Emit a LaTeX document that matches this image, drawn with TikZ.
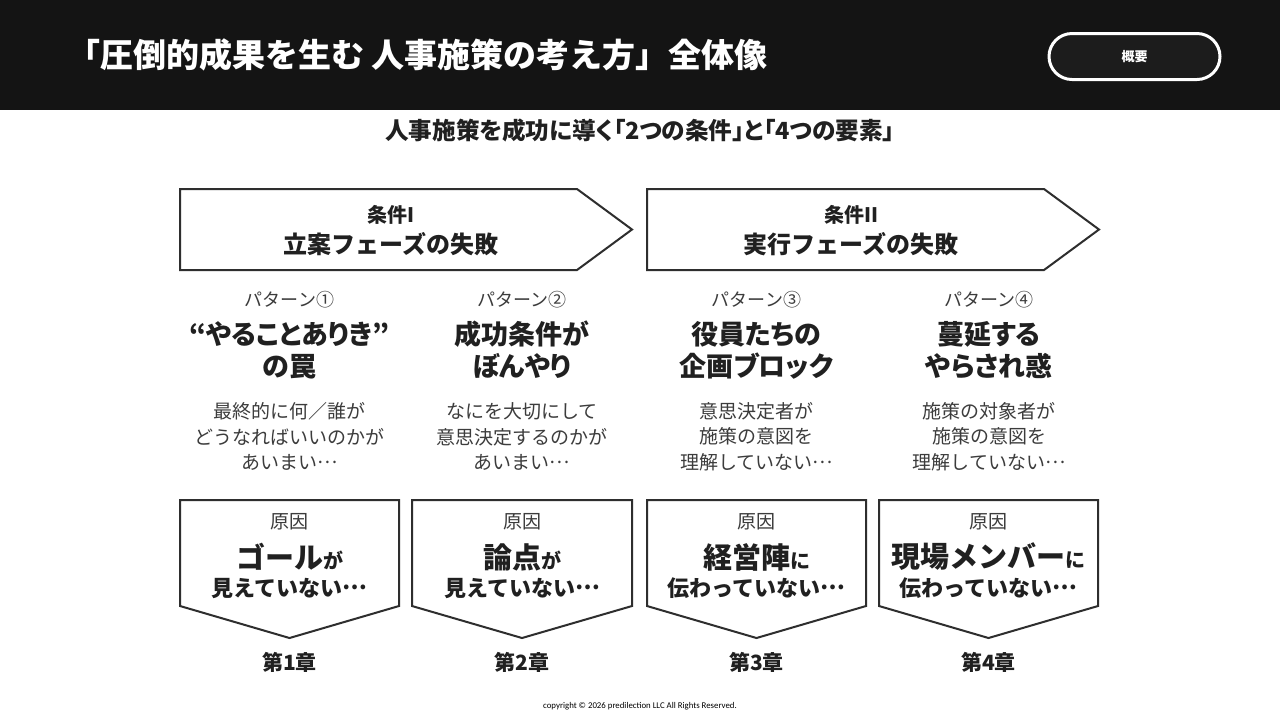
\documentclass[tikz,border=0pt]{standalone}
\usepackage{fontspec}
\setmainfont{Noto Sans CJK JP}
\newfontfamily\copyfont{Carlito}
\usetikzlibrary{positioning}
\definecolor{slideBlack}{HTML}{141414}
\definecolor{pillFill}{HTML}{1c1c1c}
\definecolor{inkDark}{HTML}{202020}
\definecolor{inkMid}{HTML}{3c3c3c}
\definecolor{lineDark}{HTML}{2e2e2e}
\newcommand{\propkana}{\addfontfeature{RawFeature=+palt}}
\tikzset{
  title/.style={anchor=west, inner sep=0pt, text=white,
              font=\bfseries\fontsize{16.5}{19}\selectfont},
  pill/.style={rounded corners=11.5pt, draw=white, line width=1.5pt, fill=pillFill,
              minimum width=85.5pt, minimum height=23pt, inner sep=0pt,
              text=white, font=\bfseries\fontsize{6.5}{8}\selectfont},
  subttl/.style={inner sep=0pt, text=inkDark, font=\bfseries\fontsize{11.8}{14}\selectfont\propkana},
  frame/.style={draw=lineDark, line width=1pt, fill=white, line join=miter},
  condsm/.style={inner sep=0pt, text=inkDark, font=\bfseries\fontsize{10}{12}\selectfont},
  condbig/.style={inner sep=0pt, text=inkDark, font=\bfseries\fontsize{12}{14}\selectfont},
  patlbl/.style={inner sep=0pt, text=inkMid, font=\fontsize{9}{11}\selectfont},
  pathead/.style={inner sep=0pt, align=center, text=inkDark,
              font=\bfseries\fontsize{13.5}{16}\selectfont\propkana},
  patdesc/.style={inner sep=0pt, align=center, text=inkMid,
              font=\fontsize{9.5}{12.75}\selectfont},
  causelbl/.style={inner sep=0pt, text=inkMid, font=\fontsize{9.5}{11}\selectfont},
  causebig/.style={inner sep=0pt, text=inkDark, font=\bfseries\fontsize{14.5}{17}\selectfont},
  causeline/.style={inner sep=0pt, text=inkDark, font=\bfseries\fontsize{11}{13}\selectfont},
  chap/.style={inner sep=0pt, text=inkDark, font=\bfseries\fontsize{10.5}{12}\selectfont},
  copyr/.style={inner sep=0pt, text=black, font=\copyfont\fontsize{4.4}{5}\selectfont},
}
\newcommand{\smga}[1]{{\fontsize{10}{12}\selectfont #1}}
\newcommand{\middots}{\raisebox{.3em}{…}}

\begin{document}
\begin{tikzpicture}[x=0.5pt,y=-0.5pt]
  \useasboundingbox (0,0) rectangle (1280,720);
  \fill[white] (0,0) rectangle (1280,720);

  % header band
  \fill[slideBlack] (0,0) rectangle (1280,110);
  \node[title] (ttl) at (67,55){「圧倒的成果を生む 人事施策の考え方」全体像};
  \node[pill] (gaiyo) at (1134.5,56.5){概要};

  \node[subttl] (sub) at (640,130){人事施策を成功に導く「2つの条件」と「4つの要素」};

  % condition arrows
  \draw[frame] (180,189) -- (577,189) -- (632,229.5) -- (577,270) -- (180,270) -- cycle;
  \node[condsm] (c1a) at (391,215){条件I};
  \node[condbig] (c1b) at (391,244){立案フェーズの失敗};
  \draw[frame] (647,189) -- (1044,189) -- (1099,229.5) -- (1044,270) -- (647,270) -- cycle;
  \node[condsm] (c2a) at (851,215){条件II};
  \node[condbig] (c2b) at (851,244){実行フェーズの失敗};

  % patterns
  \node[patlbl] (pat1) at (289.5,300){パターン①};
  \node[patlbl] (pat2) at (522,300){パターン②};
  \node[patlbl] (pat3) at (756.5,300){パターン③};
  \node[patlbl] (pat4) at (989,300){パターン④};

  \node[pathead] (head1) at (289.5,350){“やることありき”\\の罠};
  \node[pathead] (head2) at (522,350){成功条件が\\ぼんやり};
  \node[pathead] (head3) at (756.5,350){役員たちの\\企画ブロック};
  \node[pathead] (head4) at (989,350){蔓延する\\やらされ惑};

  \node[patdesc] (desc1) at (289.5,436.5){最終的に何／誰が\\どうなればいいのかが\\あいまい\middots};
  \node[patdesc] (desc2) at (522,436.5){なにを大切にして\\意思決定するのかが\\あいまい\middots};
  \node[patdesc] (desc3) at (756.5,436.5){意思決定者が\\施策の意図を\\理解していない\middots};
  \node[patdesc] (desc4) at (989,436.5){施策の対象者が\\施策の意図を\\理解していない\middots};

  % cause boxes
  \draw[frame] (180,500) -- (399,500) -- (399,606) -- (289.5,638) -- (180,606) -- cycle;
  \draw[frame] (412,500) -- (632,500) -- (632,606) -- (522,638) -- (412,606) -- cycle;
  \draw[frame] (647,500) -- (866,500) -- (866,606) -- (756.5,638) -- (647,606) -- cycle;
  \draw[frame] (879,500) -- (1098,500) -- (1098,606) -- (988.5,638) -- (879,606) -- cycle;

  \node[causelbl] (cz1) at (289.5,522){原因};
  \node[causelbl] (cz2) at (522,522){原因};
  \node[causelbl] (cz3) at (756.5,522){原因};
  \node[causelbl] (cz4) at (988.5,522){原因};

  \node[causebig] (cb1) at (289.5,557){ゴール\smga{が}};
  \node[causebig] (cb2) at (522,557){論点\smga{が}};
  \node[causebig] (cb3) at (756.5,557){経営陣\smga{に}};
  \node[causebig] (cb4) at (988.5,557){現場メンバー\smga{に}};

  \node[causeline] (cl1) at (289.5,588){見えていない\middots};
  \node[causeline] (cl2) at (522,588){見えていない\middots};
  \node[causeline] (cl3) at (756.5,588){伝わっていない\middots};
  \node[causeline] (cl4) at (988.5,588){伝わっていない\middots};

  % chapters
  \node[chap] (ch1) at (289.5,662){第1章};
  \node[chap] (ch2) at (522,662){第2章};
  \node[chap] (ch3) at (756.5,662){第3章};
  \node[chap] (ch4) at (988.5,662){第4章};

  \node[copyr] (cpr) at (640,706){copyright © 2026 predilection LLC All Rights Reserved.};
\end{tikzpicture}
\end{document}
